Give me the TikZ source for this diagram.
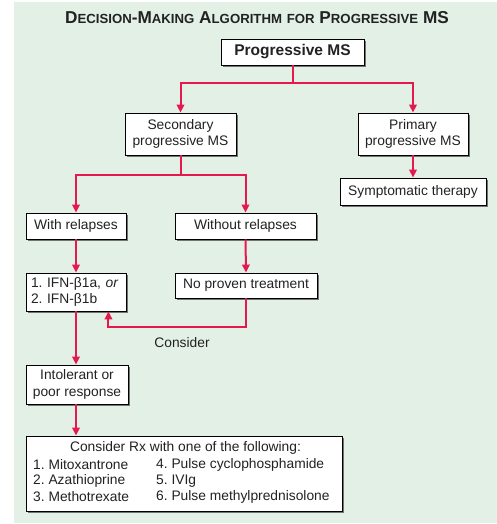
\documentclass[tikz,border=0pt]{standalone}
\usepackage{fontspec}
\setmainfont{Liberation Sans}
\usetikzlibrary{shadows,arrows.meta}
\definecolor{msred}{HTML}{E6194F}
\definecolor{msbg}{HTML}{E2F0E6}
\definecolor{mstext}{HTML}{222222}
\newcommand\smc[1]{{\fontsize{13.2}{15}\selectfont #1}}
\frenchspacing
\begin{document}
\begin{tikzpicture}[x=1pt,y=-1pt,
  box/.style={draw=black,line width=0.9pt,fill=white,inner sep=1pt,
    text=mstext,font=\fontsize{13.8}{16.6}\selectfont\frenchspacing,align=center,
    drop shadow={shadow xshift=2pt,shadow yshift=-2pt,fill=black!55,opacity=1}},
  arr/.style={draw=msred,line width=2pt,-{Triangle[length=8pt,width=7.5pt]}},
  line/.style={draw=msred,line width=2pt},
  lbl/.style={text=mstext,font=\fontsize{13.8}{16.6}\selectfont\frenchspacing,inner sep=0pt}]
\useasboundingbox (0,0) rectangle (497,524);
\fill[msbg] (14,2) rectangle (497,523);
\node[text=mstext,inner sep=0pt,font=\fontsize{17.2}{19}\selectfont\bfseries] (title) at (257,17.5)
  {D\smc{ECISION}-M\smc{AKING} A\smc{LGORITHM} \smc{FOR} P\smc{ROGRESSIVE} MS};
\node[box,minimum width=143pt,minimum height=26pt,font=\fontsize{15.5}{18}\selectfont\bfseries] (pms) at (292.5,52) {Progressive MS};
\node[box,minimum width=111pt,minimum height=42pt] (sec) at (180.5,134) {Secondary\\progressive MS};
\node[box,minimum width=110pt,minimum height=42pt] (pri) at (413,134) {Primary\\progressive MS};
\node[box,minimum width=146pt,minimum height=27pt] (sym) at (413,191.5) {Symptomatic therapy};
\node[box,minimum width=100pt,minimum height=26pt] (with) at (76,226) {With relapses};
\node[box,minimum width=141pt,minimum height=26pt] (without) at (245.5,226) {Without relapses};
\node[box,minimum width=100pt,minimum height=38pt,align=left,text width=90pt] (ifn) at (76,292) {1. IFN-β1a, \textit{or}\\2. IFN-β1b};
\node[box,minimum width=142pt,minimum height=25pt] (nop) at (246,285.5) {No proven treatment};
\node[box,minimum width=102pt,minimum height=39pt] (intol) at (77,384.5) {Intolerant or\\poor response};
\node[box,minimum width=316pt,minimum height=75pt] (rx) at (184,473.5) {};
\node[lbl] (rxh) at (185.5,448) {Consider Rx with one of the following:};
\node[lbl,anchor=west] (r1) at (33,465) {1. Mitoxantrone};
\node[lbl,anchor=west] (r2) at (33,481) {2. Azathioprine};
\node[lbl,anchor=west] (r3) at (33,497) {3. Methotrexate};
\node[lbl,anchor=west] (r4) at (156,465) {4. Pulse cyclophosphamide};
\node[lbl,anchor=west] (r5) at (156,481) {5. IVIg};
\node[lbl,anchor=west] (r6) at (156,497) {6. Pulse methylprednisolone};
\node[lbl] (cons) at (182,343) {Consider};
% connectors
\coordinate (j1) at (292.5,83);
\coordinate (j2) at (180.5,175);
\coordinate (fb) at (246,327);
\draw[line] (pms.south) -- (j1);
\draw[arr] (j1) -| (sec.north);
\draw[arr] (j1) -| (pri.north);
\draw[arr] (pri.south) -- (sym.north);
\draw[line] (sec.south) -- (j2);
\draw[arr] (j2) -| (with.north);
\draw[arr] (j2) -| (without.north);
\draw[arr] (with.south) -- (ifn.north);
\draw[arr] (without.south) -- (nop.north);
\draw[arr] (nop.south) |- (fb) -| ([xshift=-18pt]ifn.south east);
\draw[arr] (ifn.south) -- (intol.north -| ifn.south);
\draw[arr] (intol.south -| ifn.south) -- (rx.north -| ifn.south);
\end{tikzpicture}
\end{document}
